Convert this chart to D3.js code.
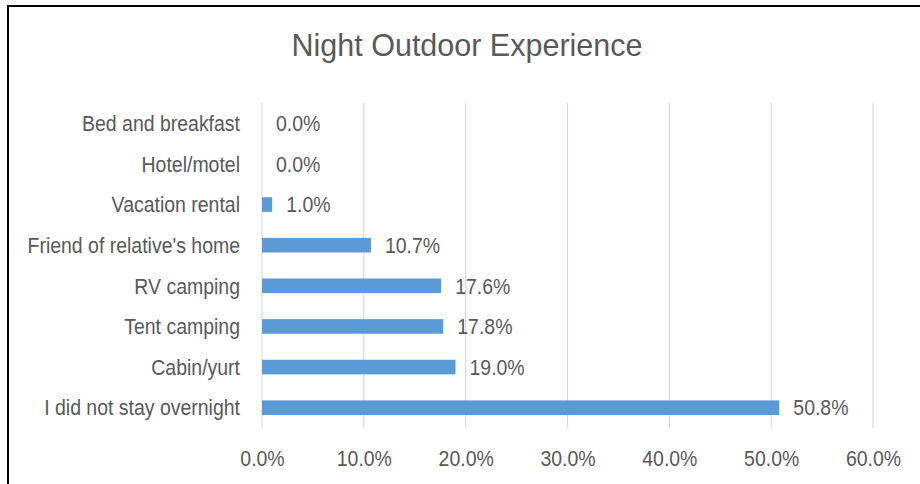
<!DOCTYPE html>
<html>
<head>
<meta charset="utf-8">
<script src="https://cdn.jsdelivr.net/npm/d3@7"></script>
<style>
  html, body { margin: 0; padding: 0; background: #fff; }
  svg { display: block; }
</style>
</head>
<body>
<svg id="chart" width="920" height="484"></svg>
<script>
// Where visitors stayed overnight, top to bottom
const categories = [
  "Bed and breakfast",
  "Hotel/motel",
  "Vacation rental",
  "Friend of relative's home",
  "RV camping",
  "Tent camping",
  "Cabin/yurt",
  "I did not stay overnight"
];
const shares = [0.0, 0.0, 1.0, 10.7, 17.6, 17.8, 19.0, 50.8];
const tickValues = [0, 10, 20, 30, 40, 50, 60];

const font = "'Liberation Sans', Arial, sans-serif";
const textColor = "#595959";
const labelSize = 22;
const narrow = 0.885; // horizontal squeeze for a narrow face

const svg = d3.select("#chart");

// chart frame
svg.append("rect")
  .attr("x", 8).attr("y", 6)
  .attr("width", 940).attr("height", 500)
  .attr("fill", "none").attr("stroke", "#000").attr("stroke-width", 2);

const plot = { left: 262, right: 873, top: 103, bottom: 428 };

const x = d3.scaleLinear().domain([0, 60]).range([plot.left, plot.right]);
const y = d3.scaleBand().domain(categories).range([plot.top, plot.bottom]).paddingInner(0.64).paddingOuter(0.32);

// title
svg.append("text")
  .attr("x", 467).attr("y", 56)
  .attr("text-anchor", "middle")
  .attr("font-family", font).attr("font-size", 30.5)
  .attr("fill", textColor)
  .text("Night Outdoor Experience");

// vertical gridlines
svg.append("g")
  .selectAll("line")
  .data(tickValues)
  .join("line")
  .attr("x1", d => x(d)).attr("x2", d => x(d))
  .attr("y1", plot.top).attr("y2", plot.bottom)
  .attr("stroke", "#d9d9d9").attr("stroke-width", 1.2);

// x axis labels
const xAxis = d3.axisBottom(x).tickValues(tickValues).tickFormat(d => d.toFixed(1) + "%").tickSize(0);
const gx = svg.append("g").attr("transform", `translate(0,${plot.bottom})`).call(xAxis);
gx.select(".domain").remove();
gx.selectAll("text")
  .attr("y", null).attr("dy", null)
  .attr("transform", `translate(0,38) scale(${narrow},1)`)
  .attr("font-family", font).attr("font-size", labelSize).attr("fill", textColor);

// y axis labels
const yAxis = d3.axisLeft(y).tickSize(0);
const gy = svg.append("g").attr("transform", `translate(${plot.left},0)`).call(yAxis);
gy.select(".domain").remove();
gy.selectAll("text")
  .attr("x", null)
  .attr("dy", "0.35em")
  .attr("transform", `translate(-22,0) scale(${narrow},1)`)
  .attr("font-family", font).attr("font-size", labelSize).attr("fill", textColor);

// bars
svg.append("g")
  .selectAll("rect")
  .data(categories)
  .join("rect")
  .attr("x", x(0))
  .attr("y", d => y(d))
  .attr("width", (d, i) => x(shares[i]) - x(0))
  .attr("height", y.bandwidth())
  .attr("fill", "#5b9bd5");

// value labels
svg.append("g")
  .selectAll("text")
  .data(categories)
  .join("text")
  .attr("transform", (d, i) =>
    `translate(${x(shares[i]) + 14},${y(d) + y.bandwidth() / 2}) scale(${narrow},1)`)
  .attr("dy", "0.35em")
  .attr("font-family", font).attr("font-size", labelSize)
  .attr("fill", textColor)
  .text((d, i) => shares[i].toFixed(1) + "%");
</script>
</body>
</html>
